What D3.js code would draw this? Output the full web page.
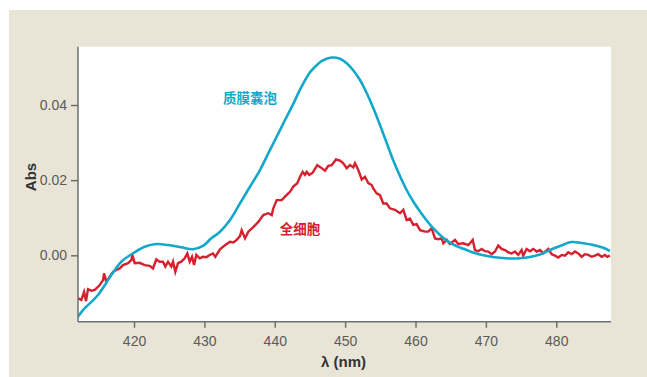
<!DOCTYPE html>
<html>
<head>
<meta charset="utf-8">
<script src="https://cdn.jsdelivr.net/npm/d3@7"></script>
<style>
  html, body { margin: 0; padding: 0; background: #ffffff; }
  svg { display: block; }
  .tick text { font-family: "Liberation Sans Narrow", "Liberation Sans", Arial, sans-serif; font-size: 14px; fill: #5a5a5a; }
  .axis path, .axis line { stroke: #6e6e6e; stroke-width: 1.5px; }
</style>
</head>
<body>
<script>
// Absorbance spectra: wavelength (nm) and absorbance
const vesicleWavelength = [412.04, 412.75, 414.88, 416.77, 418.20, 419.86, 421.52, 423.17, 424.83, 426.72,
  428.38, 429.80, 430.98, 432.22, 433.64, 435.06, 436.48, 437.90, 439.22, 440.28,
  441.46, 442.63, 443.59, 445.01, 445.96, 446.71, 448.09, 449.27, 450.22, 451.12,
  452.11, 453.06, 454.00, 454.95, 455.90, 456.80, 457.79, 458.74, 459.68, 460.64,
  461.59, 462.48, 463.48, 464.43, 465.37, 466.32, 467.27, 468.17, 469.16, 470.58,
  472.00, 473.42, 474.85, 476.27, 477.69, 479.11, 480.53, 482.19, 483.84, 485.26,
  486.68, 487.63];
const vesicleAbs = [-0.01634, -0.01458, -0.01057, -0.00524, -0.00170, 0.00053, 0.00229, 0.00301, 0.00274, 0.00213,
  0.00160, 0.00248, 0.00452, 0.00628, 0.00939, 0.01384, 0.01826, 0.02270, 0.02765, 0.03159,
  0.03601, 0.04030, 0.04410, 0.04870, 0.05060, 0.05175, 0.05264, 0.05230, 0.05110, 0.04931,
  0.04665, 0.04319, 0.03919, 0.03468, 0.02994, 0.02542, 0.02110, 0.01738, 0.01432, 0.01166,
  0.00927, 0.00727, 0.00540, 0.00394, 0.00287, 0.00208, 0.00141, 0.00075, 0.00021, -0.00032,
  -0.00067, -0.00085, -0.00080, -0.00045, 0.00021, 0.00141, 0.00248, 0.00354, 0.00319, 0.00274,
  0.00202, 0.00114];

const cellWavelength = [412.04, 412.51, 412.90, 413.18, 413.46, 413.93, 414.42, 415.13, 415.60, 415.74,
  416.06, 416.55, 417.02, 417.49, 417.97, 418.44, 419.15, 419.62, 419.76, 420.10,
  420.81, 421.52, 422.23, 422.70, 423.17, 423.65, 424.12, 424.45, 424.83, 425.30,
  425.54, 425.87, 426.25, 426.72, 427.20, 427.57, 427.91, 428.24, 428.53, 428.85,
  429.34, 429.80, 430.27, 430.76, 431.22, 431.55, 432.22, 432.93, 433.64, 434.11,
  434.59, 435.06, 435.30, 435.77, 436.24, 436.95, 437.66, 438.37, 439.08, 439.57,
  439.79, 440.28, 440.99, 441.46, 441.92, 442.17, 442.63, 443.20, 443.59, 443.97,
  444.30, 444.54, 444.91, 445.39, 446.04, 446.53, 447.14, 447.61, 448.09, 448.70,
  449.27, 449.74, 450.22, 450.69, 451.16, 451.40, 451.87, 452.35, 452.82, 453.29,
  453.77, 454.00, 454.48, 454.95, 455.42, 455.90, 456.37, 457.08, 457.79, 458.26,
  458.74, 459.21, 459.68, 460.16, 460.64, 461.35, 461.82, 462.30, 462.77, 463.24,
  463.72, 463.95, 464.43, 464.90, 465.61, 466.08, 466.79, 467.50, 467.74, 468.13,
  468.45, 468.92, 469.40, 469.87, 470.34, 470.82, 471.29, 471.76, 472.24, 472.71,
  473.18, 473.66, 474.13, 474.60, 475.08, 475.30, 475.79, 476.27, 476.73, 477.22,
  477.69, 478.16, 478.87, 479.35, 479.82, 480.29, 480.77, 481.24, 481.71, 482.19,
  482.66, 483.13, 483.61, 484.08, 484.55, 485.03, 485.50, 485.97, 486.45, 486.92,
  487.24, 487.63];
const cellAbs = [-0.0114, -0.0119, -0.0097, -0.0122, -0.0090, -0.0094, -0.0092, -0.0079, -0.0066, -0.0048,
  -0.0070, -0.0057, -0.0044, -0.0039, -0.0035, -0.0026, -0.0021, -0.0013, 0.0001, -0.0021,
  -0.0020, -0.0026, -0.0028, -0.0035, -0.0011, -0.0017, -0.0017, -0.0030, -0.0017, -0.0030,
  -0.0017, -0.0044, -0.0021, -0.0017, -0.0008, 0.0005, -0.0017, -0.0004, -0.0026, 0.0001,
  -0.0008, -0.0004, -0.0005, 0.0001, 0.0005, -0.0004, 0.0016, 0.0027, 0.0036, 0.0034,
  0.0041, 0.0051, 0.0067, 0.0045, 0.0063, 0.0075, 0.0089, 0.0107, 0.0112, 0.0107,
  0.0125, 0.0147, 0.0147, 0.0156, 0.0165, 0.0169, 0.0183, 0.0192, 0.0209, 0.0222,
  0.0214, 0.0222, 0.0214, 0.0220, 0.0240, 0.0234, 0.0225, 0.0238, 0.0240, 0.0255,
  0.0252, 0.0245, 0.0232, 0.0240, 0.0234, 0.0245, 0.0227, 0.0202, 0.0209, 0.0192,
  0.0187, 0.0178, 0.0165, 0.0160, 0.0138, 0.0138, 0.0125, 0.0121, 0.0112, 0.0121,
  0.0094, 0.0098, 0.0081, 0.0083, 0.0067, 0.0063, 0.0063, 0.0072, 0.0045, 0.0043,
  0.0045, 0.0032, 0.0041, 0.0030, 0.0041, 0.0030, 0.0032, 0.0027, 0.0032, 0.0041,
  0.0014, 0.0011, 0.0017, 0.0011, 0.0010, 0.0003, 0.0010, 0.0026, 0.0017, 0.0014,
  0.0008, 0.0005, 0.0010, 0.0001, 0.0014, -0.0001, 0.0017, 0.0011, 0.0017, 0.0010,
  0.0014, 0.0005, 0.0017, 0.0003, -0.0001, -0.0006, 0.0001, -0.0001, 0.0008, 0.0003,
  0.0010, 0.0005, -0.0004, 0.0003, 0.0001, -0.0004, -0.0001, 0.0003, -0.0004, 0.0001,
  -0.0004, -0.0001];

const xTicks = [420, 430, 440, 450, 460, 470, 480];
const yTicks = [0.00, 0.02, 0.04];
const vesicleLabel = "质膜囊泡";
const cellLabel = "全细胞";

const W = 647, H = 377;
const plot = { left: 78, right: 611, top: 46.7, bottom: 321.7 };

const svg = d3.select("body").append("svg").attr("width", W).attr("height", H);

// Beige panel and white plotting area
svg.append("rect").attr("x", 9).attr("y", 10).attr("width", W - 9).attr("height", H - 10).attr("fill", "#e9e5d6");
svg.append("rect").attr("x", plot.left).attr("y", plot.top)
  .attr("width", plot.right - plot.left).attr("height", plot.bottom - plot.top).attr("fill", "#ffffff");

const x = d3.scaleLinear().domain([412.04, 487.78]).range([plot.left, plot.right]);
const y = d3.scaleLinear().domain([-0.01767, 0.05552]).range([plot.bottom, plot.top]);

svg.append("defs").append("clipPath").attr("id", "plotClip")
  .append("rect").attr("x", plot.left).attr("y", plot.top - 5)
  .attr("width", plot.right - plot.left).attr("height", plot.bottom - plot.top + 5);

const g = svg.append("g").attr("clip-path", "url(#plotClip)");

const vesicle = vesicleWavelength.map((w, i) => [w, vesicleAbs[i]]);
const cell = cellWavelength.map((w, i) => [w, cellAbs[i]]);

g.append("path").datum(cell)
  .attr("fill", "none").attr("stroke", "#d7202d").attr("stroke-width", 2.4).attr("stroke-linejoin", "miter")
  .attr("d", d3.line().x(d => x(d[0])).y(d => y(d[1])));

g.append("path").datum(vesicle)
  .attr("fill", "none").attr("stroke", "#12a8cb").attr("stroke-width", 2.6)
  .attr("d", d3.line().curve(d3.curveCatmullRom.alpha(0.5)).x(d => x(d[0])).y(d => y(d[1])));

// Axes
const yAxis = svg.append("g").attr("class", "axis").attr("transform", `translate(${plot.left},0)`)
  .call(d3.axisLeft(y).tickValues(yTicks).tickFormat(d3.format(".2f")).tickSize(7).tickSizeOuter(0).tickPadding(4));
yAxis.select(".domain").attr("d", `M0,${plot.top}V${plot.bottom}`);

const xAxis = svg.append("g").attr("class", "axis").attr("transform", `translate(0,${plot.bottom})`)
  .call(d3.axisBottom(x).tickValues(xTicks).tickFormat(d3.format("d")).tickSize(6).tickSizeOuter(0).tickPadding(8));
xAxis.select(".domain").attr("d", `M${plot.left},0H${plot.right}`);

// Axis titles
svg.append("text").attr("transform", "translate(36,177) rotate(-90)")
  .attr("text-anchor", "middle").attr("font-family", "'Liberation Sans Narrow','Liberation Sans',Arial,sans-serif")
  .attr("font-weight", "bold").attr("font-size", 15).attr("fill", "#333333").text("Abs");

svg.append("text").attr("x", 343.5).attr("y", 367)
  .attr("text-anchor", "middle").attr("font-family", "'Liberation Sans Narrow','Liberation Sans',Arial,sans-serif")
  .attr("font-weight", "bold").attr("font-size", 15).attr("fill", "#333333").text("λ (nm)");

// Series labels
svg.append("text").attr("x", 250).attr("y", 103)
  .attr("text-anchor", "middle").attr("font-family", "'Noto Sans CJK SC',sans-serif")
  .attr("font-weight", "bold").attr("font-size", 13.5).attr("fill", "#12a8cb").text(vesicleLabel);

svg.append("text").attr("x", 300).attr("y", 233.5)
  .attr("text-anchor", "middle").attr("font-family", "'Noto Sans CJK SC',sans-serif")
  .attr("font-weight", "bold").attr("font-size", 13.5).attr("fill", "#d7202d").text(cellLabel);
</script>
</body>
</html>
